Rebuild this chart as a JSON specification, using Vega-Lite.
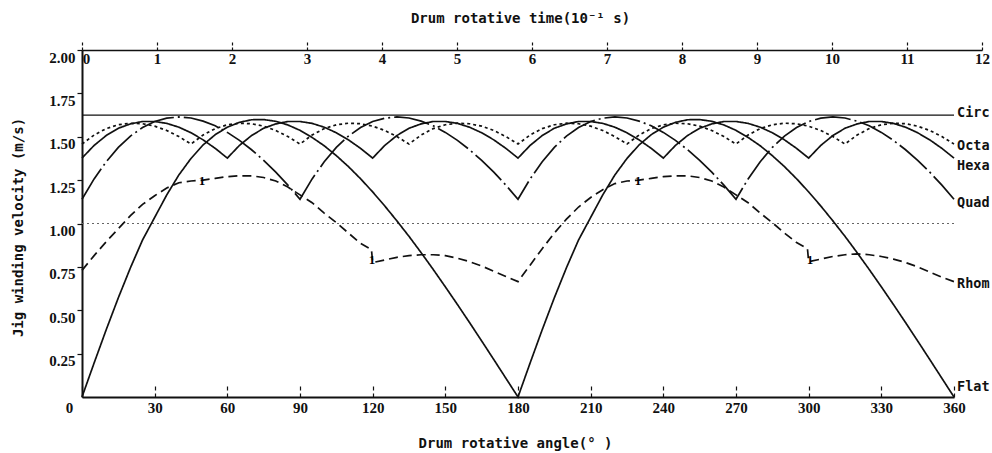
{
"$schema": "https://vega.github.io/schema/vega-lite/v6.json",
"width": 872, "height": 347,
"autosize": {"type": "none"},
"padding": {"left": 82, "top": 50, "right": 38, "bottom": 56},
"background": "white",
"config": {"view": {"stroke": null}, "axis": {"grid": false, "domainColor": "#111", "tickColor": "#111", "labelColor": "#111", "titleColor": "#111"}},
"datasets": {
"curves": [
{"s":"Hexa","a":0,"v":1.377},{"s":"Hexa","a":5,"v":1.45},{"s":"Hexa","a":10,"v":1.507},{"s":"Hexa","a":15,"v":1.549},{"s":"Hexa","a":20,"v":1.574},{"s":"Hexa","a":25,"v":1.588},{"s":"Hexa","a":30,"v":1.588},{"s":"Hexa","a":35,"v":1.577},{"s":"Hexa","a":40,"v":1.555},{"s":"Hexa","a":45,"v":1.523},{"s":"Hexa","a":50,"v":1.482},{"s":"Hexa","a":55,"v":1.433},
{"s":"Hexa","a":60,"v":1.377},{"s":"Hexa","a":65,"v":1.45},{"s":"Hexa","a":70,"v":1.507},{"s":"Hexa","a":75,"v":1.549},{"s":"Hexa","a":80,"v":1.574},{"s":"Hexa","a":85,"v":1.588},{"s":"Hexa","a":90,"v":1.588},{"s":"Hexa","a":95,"v":1.577},{"s":"Hexa","a":100,"v":1.555},{"s":"Hexa","a":105,"v":1.523},{"s":"Hexa","a":110,"v":1.482},{"s":"Hexa","a":115,"v":1.433},
{"s":"Hexa","a":120,"v":1.377},{"s":"Hexa","a":125,"v":1.45},{"s":"Hexa","a":130,"v":1.507},{"s":"Hexa","a":135,"v":1.549},{"s":"Hexa","a":140,"v":1.574},{"s":"Hexa","a":145,"v":1.588},{"s":"Hexa","a":150,"v":1.588},{"s":"Hexa","a":155,"v":1.577},{"s":"Hexa","a":160,"v":1.555},{"s":"Hexa","a":165,"v":1.523},{"s":"Hexa","a":170,"v":1.482},{"s":"Hexa","a":175,"v":1.433},
{"s":"Hexa","a":180,"v":1.377},{"s":"Hexa","a":185,"v":1.45},{"s":"Hexa","a":190,"v":1.507},{"s":"Hexa","a":195,"v":1.549},{"s":"Hexa","a":200,"v":1.574},{"s":"Hexa","a":205,"v":1.588},{"s":"Hexa","a":210,"v":1.588},{"s":"Hexa","a":215,"v":1.577},{"s":"Hexa","a":220,"v":1.555},{"s":"Hexa","a":225,"v":1.523},{"s":"Hexa","a":230,"v":1.482},{"s":"Hexa","a":235,"v":1.433},
{"s":"Hexa","a":240,"v":1.377},{"s":"Hexa","a":245,"v":1.45},{"s":"Hexa","a":250,"v":1.507},{"s":"Hexa","a":255,"v":1.549},{"s":"Hexa","a":260,"v":1.574},{"s":"Hexa","a":265,"v":1.588},{"s":"Hexa","a":270,"v":1.588},{"s":"Hexa","a":275,"v":1.577},{"s":"Hexa","a":280,"v":1.555},{"s":"Hexa","a":285,"v":1.523},{"s":"Hexa","a":290,"v":1.482},{"s":"Hexa","a":295,"v":1.433},
{"s":"Hexa","a":300,"v":1.377},{"s":"Hexa","a":305,"v":1.45},{"s":"Hexa","a":310,"v":1.507},{"s":"Hexa","a":315,"v":1.549},{"s":"Hexa","a":320,"v":1.574},{"s":"Hexa","a":325,"v":1.588},{"s":"Hexa","a":330,"v":1.588},{"s":"Hexa","a":335,"v":1.577},{"s":"Hexa","a":340,"v":1.555},{"s":"Hexa","a":345,"v":1.523},{"s":"Hexa","a":350,"v":1.482},{"s":"Hexa","a":355,"v":1.433},{"s":"Hexa","a":360,"v":1.377},
{"s":"Quad","a":0,"v":1.14},{"s":"Quad","a":5,"v":1.257},{"s":"Quad","a":10,"v":1.356},{"s":"Quad","a":15,"v":1.439},{"s":"Quad","a":20,"v":1.504},{"s":"Quad","a":25,"v":1.553},{"s":"Quad","a":30,"v":1.588},{"s":"Quad","a":35,"v":1.607},{"s":"Quad","a":40,"v":1.614},{"s":"Quad","a":45,"v":1.608},{"s":"Quad","a":50,"v":1.59},{"s":"Quad","a":55,"v":1.563},{"s":"Quad","a":60,"v":1.525},{"s":"Quad","a":65,"v":1.479},{"s":"Quad","a":70,"v":1.425},{"s":"Quad","a":75,"v":1.364},{"s":"Quad","a":80,"v":1.296},{"s":"Quad","a":85,"v":1.221},
{"s":"Quad","a":90,"v":1.14},{"s":"Quad","a":95,"v":1.257},{"s":"Quad","a":100,"v":1.356},{"s":"Quad","a":105,"v":1.439},{"s":"Quad","a":110,"v":1.504},{"s":"Quad","a":115,"v":1.553},{"s":"Quad","a":120,"v":1.588},{"s":"Quad","a":125,"v":1.607},{"s":"Quad","a":130,"v":1.614},{"s":"Quad","a":135,"v":1.608},{"s":"Quad","a":140,"v":1.59},{"s":"Quad","a":145,"v":1.563},{"s":"Quad","a":150,"v":1.525},{"s":"Quad","a":155,"v":1.479},{"s":"Quad","a":160,"v":1.425},{"s":"Quad","a":165,"v":1.364},{"s":"Quad","a":170,"v":1.296},{"s":"Quad","a":175,"v":1.221},
{"s":"Quad","a":180,"v":1.14},{"s":"Quad","a":185,"v":1.257},{"s":"Quad","a":190,"v":1.356},{"s":"Quad","a":195,"v":1.439},{"s":"Quad","a":200,"v":1.504},{"s":"Quad","a":205,"v":1.553},{"s":"Quad","a":210,"v":1.588},{"s":"Quad","a":215,"v":1.607},{"s":"Quad","a":220,"v":1.614},{"s":"Quad","a":225,"v":1.608},{"s":"Quad","a":230,"v":1.59},{"s":"Quad","a":235,"v":1.563},{"s":"Quad","a":240,"v":1.525},{"s":"Quad","a":245,"v":1.479},{"s":"Quad","a":250,"v":1.425},{"s":"Quad","a":255,"v":1.364},{"s":"Quad","a":260,"v":1.296},{"s":"Quad","a":265,"v":1.221},
{"s":"Quad","a":270,"v":1.14},{"s":"Quad","a":275,"v":1.257},{"s":"Quad","a":280,"v":1.356},{"s":"Quad","a":285,"v":1.439},{"s":"Quad","a":290,"v":1.504},{"s":"Quad","a":295,"v":1.553},{"s":"Quad","a":300,"v":1.588},{"s":"Quad","a":305,"v":1.607},{"s":"Quad","a":310,"v":1.614},{"s":"Quad","a":315,"v":1.608},{"s":"Quad","a":320,"v":1.59},{"s":"Quad","a":325,"v":1.563},{"s":"Quad","a":330,"v":1.525},{"s":"Quad","a":335,"v":1.479},{"s":"Quad","a":340,"v":1.425},{"s":"Quad","a":345,"v":1.364},{"s":"Quad","a":350,"v":1.296},{"s":"Quad","a":355,"v":1.221},{"s":"Quad","a":360,"v":1.14},
{"s":"Octa","a":0,"v":1.458},{"s":"Octa","a":5,"v":1.51},{"s":"Octa","a":10,"v":1.547},{"s":"Octa","a":15,"v":1.569},{"s":"Octa","a":20,"v":1.578},{"s":"Octa","a":25,"v":1.575},{"s":"Octa","a":30,"v":1.561},{"s":"Octa","a":35,"v":1.536},{"s":"Octa","a":40,"v":1.501},
{"s":"Octa","a":45,"v":1.458},{"s":"Octa","a":50,"v":1.51},{"s":"Octa","a":55,"v":1.547},{"s":"Octa","a":60,"v":1.569},{"s":"Octa","a":65,"v":1.578},{"s":"Octa","a":70,"v":1.575},{"s":"Octa","a":75,"v":1.561},{"s":"Octa","a":80,"v":1.536},{"s":"Octa","a":85,"v":1.501},
{"s":"Octa","a":90,"v":1.458},{"s":"Octa","a":95,"v":1.51},{"s":"Octa","a":100,"v":1.547},{"s":"Octa","a":105,"v":1.569},{"s":"Octa","a":110,"v":1.578},{"s":"Octa","a":115,"v":1.575},{"s":"Octa","a":120,"v":1.561},{"s":"Octa","a":125,"v":1.536},{"s":"Octa","a":130,"v":1.501},
{"s":"Octa","a":135,"v":1.458},{"s":"Octa","a":140,"v":1.51},{"s":"Octa","a":145,"v":1.547},{"s":"Octa","a":150,"v":1.569},{"s":"Octa","a":155,"v":1.578},{"s":"Octa","a":160,"v":1.575},{"s":"Octa","a":165,"v":1.561},{"s":"Octa","a":170,"v":1.536},{"s":"Octa","a":175,"v":1.501},
{"s":"Octa","a":180,"v":1.458},{"s":"Octa","a":185,"v":1.51},{"s":"Octa","a":190,"v":1.547},{"s":"Octa","a":195,"v":1.569},{"s":"Octa","a":200,"v":1.578},{"s":"Octa","a":205,"v":1.575},{"s":"Octa","a":210,"v":1.561},{"s":"Octa","a":215,"v":1.536},{"s":"Octa","a":220,"v":1.501},
{"s":"Octa","a":225,"v":1.458},{"s":"Octa","a":230,"v":1.51},{"s":"Octa","a":235,"v":1.547},{"s":"Octa","a":240,"v":1.569},{"s":"Octa","a":245,"v":1.578},{"s":"Octa","a":250,"v":1.575},{"s":"Octa","a":255,"v":1.561},{"s":"Octa","a":260,"v":1.536},{"s":"Octa","a":265,"v":1.501},
{"s":"Octa","a":270,"v":1.458},{"s":"Octa","a":275,"v":1.51},{"s":"Octa","a":280,"v":1.547},{"s":"Octa","a":285,"v":1.569},{"s":"Octa","a":290,"v":1.578},{"s":"Octa","a":295,"v":1.575},{"s":"Octa","a":300,"v":1.561},{"s":"Octa","a":305,"v":1.536},{"s":"Octa","a":310,"v":1.501},
{"s":"Octa","a":315,"v":1.458},{"s":"Octa","a":320,"v":1.51},{"s":"Octa","a":325,"v":1.547},{"s":"Octa","a":330,"v":1.569},{"s":"Octa","a":335,"v":1.578},{"s":"Octa","a":340,"v":1.575},{"s":"Octa","a":345,"v":1.561},{"s":"Octa","a":350,"v":1.536},{"s":"Octa","a":355,"v":1.501},{"s":"Octa","a":360,"v":1.458},
{"s":"Flat","a":0,"v":0},{"s":"Flat","a":5,"v":0.196},{"s":"Flat","a":10,"v":0.388},{"s":"Flat","a":15,"v":0.572},{"s":"Flat","a":20,"v":0.745},{"s":"Flat","a":25,"v":0.905},{"s":"Flat","a":30,"v":1.035},{"s":"Flat","a":35,"v":1.165},{"s":"Flat","a":40,"v":1.28},{"s":"Flat","a":45,"v":1.375},{"s":"Flat","a":50,"v":1.453},{"s":"Flat","a":55,"v":1.512},{"s":"Flat","a":60,"v":1.555},{"s":"Flat","a":65,"v":1.583},{"s":"Flat","a":70,"v":1.598},{"s":"Flat","a":75,"v":1.599},{"s":"Flat","a":80,"v":1.589},{"s":"Flat","a":85,"v":1.568},{"s":"Flat","a":90,"v":1.537},{"s":"Flat","a":95,"v":1.496},{"s":"Flat","a":100,"v":1.448},{"s":"Flat","a":105,"v":1.391},{"s":"Flat","a":110,"v":1.328},{"s":"Flat","a":115,"v":1.258},{"s":"Flat","a":120,"v":1.182},{"s":"Flat","a":125,"v":1.101},{"s":"Flat","a":130,"v":1.015},{"s":"Flat","a":135,"v":0.926},{"s":"Flat","a":140,"v":0.832},{"s":"Flat","a":145,"v":0.735},{"s":"Flat","a":150,"v":0.635},{"s":"Flat","a":155,"v":0.533},{"s":"Flat","a":160,"v":0.429},{"s":"Flat","a":165,"v":0.323},{"s":"Flat","a":170,"v":0.216},{"s":"Flat","a":175,"v":0.108},
{"s":"Flat","a":180,"v":0},{"s":"Flat","a":185,"v":0.196},{"s":"Flat","a":190,"v":0.388},{"s":"Flat","a":195,"v":0.572},{"s":"Flat","a":200,"v":0.745},{"s":"Flat","a":205,"v":0.905},{"s":"Flat","a":210,"v":1.035},{"s":"Flat","a":215,"v":1.165},{"s":"Flat","a":220,"v":1.28},{"s":"Flat","a":225,"v":1.375},{"s":"Flat","a":230,"v":1.453},{"s":"Flat","a":235,"v":1.512},{"s":"Flat","a":240,"v":1.555},{"s":"Flat","a":245,"v":1.583},{"s":"Flat","a":250,"v":1.598},{"s":"Flat","a":255,"v":1.599},{"s":"Flat","a":260,"v":1.589},{"s":"Flat","a":265,"v":1.568},{"s":"Flat","a":270,"v":1.537},{"s":"Flat","a":275,"v":1.496},{"s":"Flat","a":280,"v":1.448},{"s":"Flat","a":285,"v":1.391},{"s":"Flat","a":290,"v":1.328},{"s":"Flat","a":295,"v":1.258},{"s":"Flat","a":300,"v":1.182},{"s":"Flat","a":305,"v":1.101},{"s":"Flat","a":310,"v":1.015},{"s":"Flat","a":315,"v":0.926},{"s":"Flat","a":320,"v":0.832},{"s":"Flat","a":325,"v":0.735},{"s":"Flat","a":330,"v":0.635},{"s":"Flat","a":335,"v":0.533},{"s":"Flat","a":340,"v":0.429},{"s":"Flat","a":345,"v":0.323},{"s":"Flat","a":350,"v":0.216},{"s":"Flat","a":355,"v":0.108},{"s":"Flat","a":360,"v":0},
{"s":"Rhom","a":0,"v":0.73},{"s":"Rhom","a":5,"v":0.815},{"s":"Rhom","a":10,"v":0.895},{"s":"Rhom","a":15,"v":0.97},{"s":"Rhom","a":20,"v":1.045},{"s":"Rhom","a":25,"v":1.11},{"s":"Rhom","a":30,"v":1.16},{"s":"Rhom","a":35,"v":1.205},{"s":"Rhom","a":40,"v":1.235},{"s":"Rhom","a":45,"v":1.245},{"s":"Rhom","a":50,"v":1.25},{"s":"Rhom","a":55,"v":1.26},{"s":"Rhom","a":60,"v":1.27},{"s":"Rhom","a":65,"v":1.275},{"s":"Rhom","a":70,"v":1.275},{"s":"Rhom","a":75,"v":1.265},{"s":"Rhom","a":80,"v":1.245},{"s":"Rhom","a":85,"v":1.21},{"s":"Rhom","a":90,"v":1.165},{"s":"Rhom","a":95,"v":1.12},{"s":"Rhom","a":100,"v":1.06},{"s":"Rhom","a":105,"v":1.005},{"s":"Rhom","a":110,"v":0.945},{"s":"Rhom","a":115,"v":0.885},{"s":"Rhom","a":119.5,"v":0.85},{"s":"Rhom","a":120,"v":0.775},{"s":"Rhom","a":125,"v":0.79},{"s":"Rhom","a":130,"v":0.805},{"s":"Rhom","a":135,"v":0.815},{"s":"Rhom","a":140,"v":0.82},{"s":"Rhom","a":145,"v":0.82},{"s":"Rhom","a":150,"v":0.815},{"s":"Rhom","a":155,"v":0.8},{"s":"Rhom","a":160,"v":0.78},{"s":"Rhom","a":165,"v":0.755},{"s":"Rhom","a":170,"v":0.725},{"s":"Rhom","a":175,"v":0.695},
{"s":"Rhom","a":180,"v":0.665},{"s":"Rhom","a":185,"v":0.76},{"s":"Rhom","a":190,"v":0.855},{"s":"Rhom","a":195,"v":0.945},{"s":"Rhom","a":200,"v":1.025},{"s":"Rhom","a":205,"v":1.095},{"s":"Rhom","a":210,"v":1.15},{"s":"Rhom","a":215,"v":1.195},{"s":"Rhom","a":220,"v":1.23},{"s":"Rhom","a":225,"v":1.245},{"s":"Rhom","a":230,"v":1.25},{"s":"Rhom","a":235,"v":1.26},{"s":"Rhom","a":240,"v":1.27},{"s":"Rhom","a":245,"v":1.275},{"s":"Rhom","a":250,"v":1.275},{"s":"Rhom","a":255,"v":1.265},{"s":"Rhom","a":260,"v":1.245},{"s":"Rhom","a":265,"v":1.21},{"s":"Rhom","a":270,"v":1.165},{"s":"Rhom","a":275,"v":1.12},{"s":"Rhom","a":280,"v":1.06},{"s":"Rhom","a":285,"v":1.005},{"s":"Rhom","a":290,"v":0.945},{"s":"Rhom","a":295,"v":0.89},{"s":"Rhom","a":299.5,"v":0.855},{"s":"Rhom","a":300,"v":0.78},{"s":"Rhom","a":305,"v":0.795},{"s":"Rhom","a":310,"v":0.81},{"s":"Rhom","a":315,"v":0.82},{"s":"Rhom","a":320,"v":0.825},{"s":"Rhom","a":325,"v":0.82},{"s":"Rhom","a":330,"v":0.81},{"s":"Rhom","a":335,"v":0.795},{"s":"Rhom","a":340,"v":0.775},{"s":"Rhom","a":345,"v":0.75},{"s":"Rhom","a":350,"v":0.72},{"s":"Rhom","a":355,"v":0.69},{"s":"Rhom","a":360,"v":0.665}
],
"labels": [
{"lab":"Circ","a":360,"v":1.637},{"lab":"Octa","a":360,"v":1.447},{"lab":"Hexa","a":360,"v":1.331},{"lab":"Quad","a":360,"v":1.118},{"lab":"Rhom","a":360,"v":0.651},{"lab":"Flat","a":360,"v":0.058}
],
"marks": [
{"m":"1","a":49.5,"v":1.245},{"m":"1","a":119.7,"v":0.79},{"m":"1","a":229.5,"v":1.245},{"m":"1","a":300.6,"v":0.79}
]
},
"layer": [
{
"layer": [
{
"data": {"values": [{"k":"ref","a":0,"a2":360,"v":1.0}]},
"mark": {"type": "rule", "color": "#666", "strokeWidth": 1, "strokeDash": [2, 3]},
"encoding": {
"x": {"field": "a", "type": "quantitative",
"scale": {"domain": [0, 360], "nice": false, "zero": false},
"axis": {"orient": "bottom", "values": [0,30,60,90,120,150,180,210,240,270,300,330,360], "format": "d", "labelFlush": false,
"tickSize": -11, "tickDash": [4, 3], "tickWidth": 1.2, "domainWidth": 2,
"labelPadding": 14, "labelFont": "Liberation Serif", "labelFontSize": 15, "labelFontWeight": "bold",
"labelOffset": {"condition": {"test": "datum.value === 0", "value": -13}, "value": 0},
"title": "Drum rotative angle(° )", "titleFont": "DejaVu Sans Mono", "titleFontSize": 14, "titleFontWeight": "bold",
"titleX": 433, "titleY": 46, "titleBaseline": "middle", "titleAlign": "center", "titleAnchor": null}},
"x2": {"field": "a2"},
"y": {"field": "v", "type": "quantitative",
"scale": {"domain": [0, 2], "nice": false, "zero": true},
"axis": {"values": [0.25,0.5,0.75,1,1.25,1.5,1.75,2], "format": ".2f",
"tickSize": 5, "tickWidth": 1.2, "domainWidth": 2, "labelPadding": 2, "labelOffset": 7,
"labelFont": "Liberation Serif", "labelFontSize": 15, "labelFontWeight": "bold",
"title": "Jig winding velocity (m/s)", "titleFont": "DejaVu Sans Mono", "titleFontSize": 14, "titleFontWeight": "bold",
"titleAngle": -90, "titleX": -64, "titleY": 177, "titleBaseline": "middle", "titleAlign": "center"}}
}
},
{
"data": {"values": [{"k":"Circ","a":0,"a2":360,"v":1.625}]},
"mark": {"type": "rule", "color": "#111", "strokeWidth": 1.3},
"encoding": {"x": {"field": "a", "type": "quantitative"}, "x2": {"field": "a2"}, "y": {"field": "v", "type": "quantitative"}}
},
{
"data": {"name": "curves"},
"mark": {"type": "line", "color": "#111", "strokeWidth": 1.7, "interpolate": "linear"},
"encoding": {
"x": {"field": "a", "type": "quantitative"},
"y": {"field": "v", "type": "quantitative"},
"strokeDash": {"field": "s", "type": "nominal", "legend": null,
"scale": {"domain": ["Octa","Hexa","Quad","Rhom","Flat"], "range": [[3,3],[1,0],[36,4,2,4],[9,5],[1,0]]}}
}
},
{
"data": {"name": "labels"},
"mark": {"type": "text", "align": "left", "baseline": "middle", "dx": 3, "font": "DejaVu Sans Mono", "fontSize": 13.5, "fontWeight": "bold", "color": "#111"},
"encoding": {"x": {"field": "a", "type": "quantitative"}, "y": {"field": "v", "type": "quantitative"}, "text": {"field": "lab"}}
},
{
"data": {"name": "marks"},
"mark": {"type": "text", "align": "center", "baseline": "middle", "font": "Liberation Serif", "fontSize": 13, "fontWeight": "bold", "color": "#000"},
"encoding": {"x": {"field": "a", "type": "quantitative"}, "y": {"field": "v", "type": "quantitative"}, "text": {"field": "m"}}
}
]
},
{
"data": {"values": [{"t": 0}, {"t": 12}]},
"mark": {"type": "point", "opacity": 0},
"encoding": {
"x": {"field": "t", "type": "quantitative",
"scale": {"domain": [0, 12], "range": [0, 900], "nice": false, "zero": false},
"axis": {"orient": "top", "values": [0,1,2,3,4,5,6,7,8,9,10,11,12], "format": "d", "labelFlush": false,
"tickSize": 9, "tickDash": [3, 2], "tickWidth": 1.2, "domainWidth": 1.5,
"labelPadding": -10, "labelBaseline": "top",
"labelFont": "Liberation Serif", "labelFontSize": 15, "labelFontWeight": "bold",
"labelOffset": {"condition": {"test": "datum.value === 0", "value": 4}, "value": 0},
"title": "Drum rotative time(10⁻¹ s)", "titleFont": "DejaVu Sans Mono", "titleFontSize": 14, "titleFontWeight": "bold",
"titleX": 438, "titleY": -32, "titleBaseline": "middle", "titleAlign": "center"}}
}
}
],
"resolve": {"scale": {"x": "independent"}}
}
